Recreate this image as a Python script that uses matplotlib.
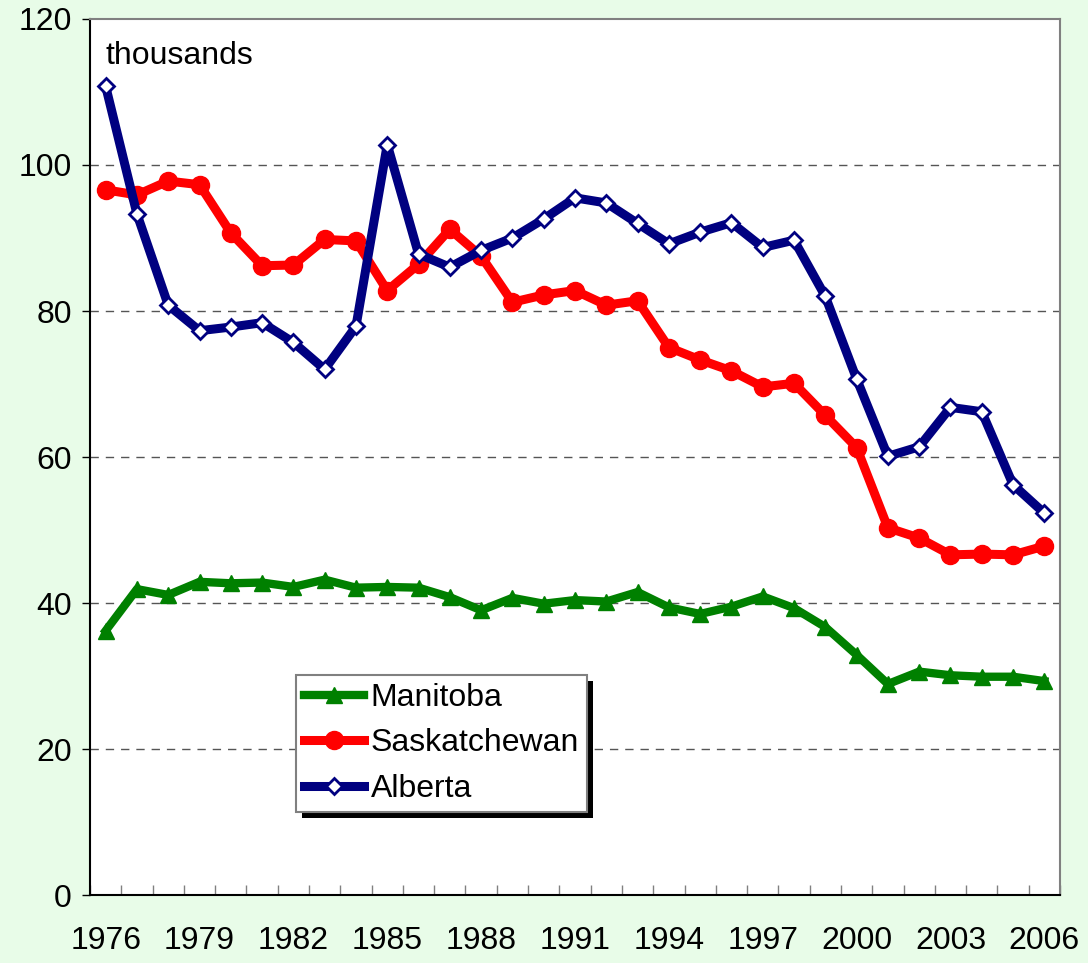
import matplotlib
matplotlib.use('Agg')
import matplotlib.pyplot as plt
from matplotlib.patches import Rectangle
import numpy as np

# Data (thousands)
years = list(range(1976, 2007))
manitoba = [36.2, 41.9, 41.1, 42.9, 42.7, 42.8, 42.2, 43.2, 42.1, 42.2,
            42.1, 40.8, 39.0, 40.7, 39.9, 40.4, 40.2, 41.5, 39.4, 38.5,
            39.5, 40.9, 39.3, 36.7, 32.9, 28.9, 30.6, 30.1, 29.9, 29.9, 29.3]
saskatchewan = [96.6, 95.9, 97.8, 97.3, 90.7, 86.2, 86.3, 89.8, 89.6, 82.8,
                86.4, 91.2, 87.5, 81.2, 82.2, 82.8, 80.8, 81.4, 75.0, 73.3,
                71.8, 69.6, 70.1, 65.7, 61.3, 50.3, 48.9, 46.6, 46.7, 46.6, 47.8]
alberta = [110.8, 93.3, 80.8, 77.3, 77.8, 78.4, 75.7, 72.0, 77.9, 102.8,
           87.8, 86.0, 88.3, 90.0, 92.6, 95.5, 94.8, 92.0, 89.2, 90.8,
           92.1, 88.7, 89.7, 82.0, 70.7, 60.1, 61.4, 66.8, 66.2, 56.2, 52.3]
label_years = years[::3]

plt.rcParams['font.family'] = ['Liberation Sans', 'DejaVu Sans']
fs = 23

fig = plt.figure(figsize=(10.88, 9.63), dpi=100, facecolor='#e8fce8')
ax = fig.add_axes([90 / 1088, 68 / 963, 970 / 1088, 876 / 963])
ax.set_facecolor('white')

x = np.arange(len(years))
ax.plot(x, manitoba, color='#008000', lw=6, marker='^', ms=12,
        mfc='#008000', mec='#008000', label='Manitoba', zorder=3)
ax.plot(x, saskatchewan, color='#ff0000', lw=6.5, marker='o', ms=13,
        mfc='#ff0000', mec='#ff0000', label='Saskatchewan', zorder=4)
ax.plot(x, alberta, color='#000080', lw=6.5, marker='D', ms=8,
        mfc='white', mec='#000080', mew=2, label='Alberta', zorder=5)

ax.set_xlim(-0.5, len(years) - 0.5)
ax.set_ylim(0, 120)
ax.set_yticks(range(0, 121, 20))
ax.tick_params(axis='y', direction='out', length=6, width=1, labelsize=fs, pad=7)

ax.set_xticks([years.index(y) for y in label_years])
ax.set_xticklabels([str(y) for y in label_years])
ax.set_xticks(np.arange(-0.5, len(years), 1), minor=True)
ax.tick_params(axis='x', which='major', length=0, labelsize=fs, pad=22)
ax.tick_params(axis='x', which='minor', direction='in', length=7, width=1, color='#808080')

for yv in range(20, 120, 20):
    ax.axhline(yv, color='#555555', lw=1, ls=(0, (6, 5)), zorder=1)

for side in ['left', 'bottom']:
    ax.spines[side].set_color('black')
    ax.spines[side].set_linewidth(1.5)
for side in ['top', 'right']:
    ax.spines[side].set_color('#808080')
    ax.spines[side].set_linewidth(1.5)

ax.text(0.016, 0.975, 'thousands', transform=ax.transAxes, fontsize=fs,
        va='top', ha='left')

leg = ax.legend(loc='upper left', bbox_to_anchor=(0.212, 0.251), fontsize=fs,
                frameon=True, fancybox=False, edgecolor='#808080',
                facecolor='white', framealpha=1,
                handlelength=1.9, handletextpad=0.2, borderpad=0.25,
                labelspacing=0.48, borderaxespad=0)
leg.get_frame().set_linewidth(1.5)
leg.set_zorder(10)

# solid black drop shadow behind the legend box
fig.canvas.draw()
bb = leg.get_window_extent().transformed(ax.transAxes.inverted())
dx = 6 / 970
dy = 6 / 876
shadow = Rectangle((bb.x0 + dx, bb.y0 - dy), bb.width, bb.height,
                   transform=ax.transAxes, facecolor='black', edgecolor='none',
                   zorder=9)
ax.add_patch(shadow)

fig.savefig('out.png', dpi=100, facecolor=fig.get_facecolor())
